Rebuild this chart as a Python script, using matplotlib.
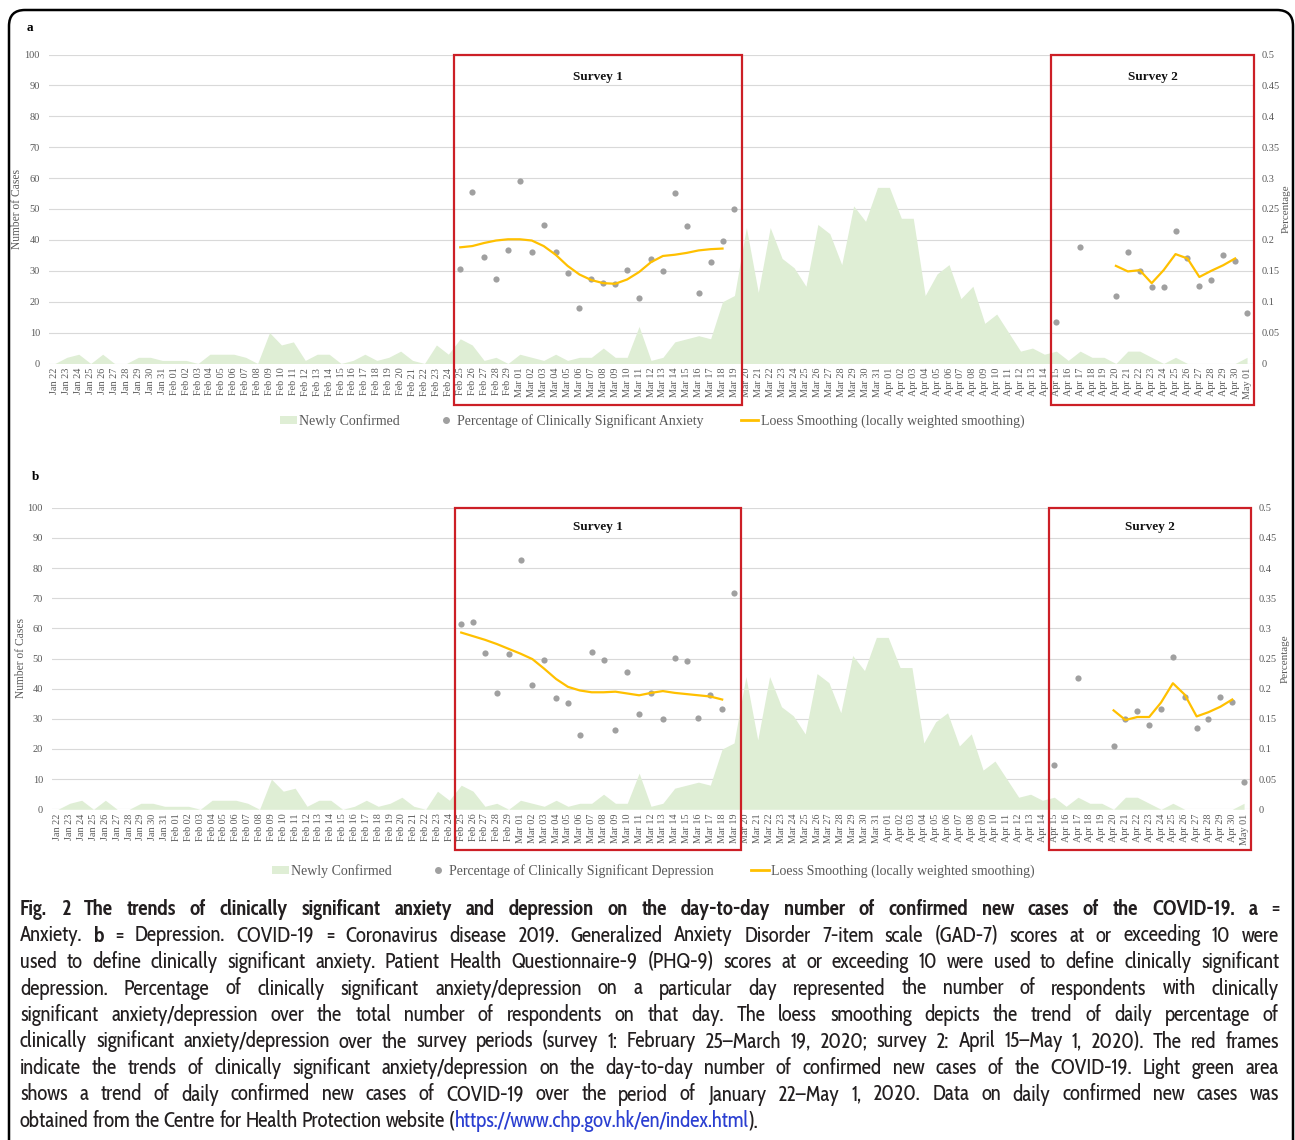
import matplotlib
matplotlib.use("Agg")
import numpy as np
import matplotlib.pyplot as plt
from matplotlib import font_manager
from matplotlib.patches import Rectangle, Patch, FancyBboxPatch
from matplotlib.lines import Line2D
from matplotlib.transforms import IdentityTransform, blended_transform_factory

# ---- data ----
months = [("Jan", 22, 31), ("Feb", 1, 29), ("Mar", 1, 31), ("Apr", 1, 30), ("May", 1, 1)]
days = []
for m, d0, d1 in months:
    for d in range(d0, d1 + 1):
        days.append("%s %02d" % (m, d))

new_cases = [0, 2, 3, 0, 3, 0, 0, 2, 2, 1,
             1, 1, 0, 3, 3, 3, 2, 0, 10, 6, 7, 1, 3, 3, 0, 1, 3, 1, 2, 4, 1, 0, 6, 3,
             8, 6, 1, 2, 0,
             3, 2, 1, 3, 1, 2, 2, 5, 2, 2, 12, 1, 2, 7, 8, 9, 8, 20, 22,
             44, 23, 44, 34, 31, 25, 45, 42, 32, 51, 46, 57,
             57, 47, 47, 22, 29, 32, 21, 25, 13, 16, 10, 4, 5, 3,
             4, 1, 4, 2, 2, 0, 4, 4, 2, 0, 2, 0, 0, 0, 0, 0,
             2]

survey1_days = days[days.index("Feb 25"):days.index("Mar 19") + 1]
loess1_days = survey1_days[:-1]
survey2_days = ["Apr 15", "Apr 17"] + days[days.index("Apr 20"):]
loess2_days = days[days.index("Apr 20"):days.index("Apr 30") + 1]

anx_s1 = [0.153, 0.277, 0.172, 0.136, 0.183, 0.295, 0.180, 0.224, 0.180, 0.146,
          0.090, 0.136, 0.131, 0.128, 0.151, 0.106, 0.169, 0.149, 0.276, 0.223,
          0.114, 0.165, 0.199, 0.250]
anx_loess1 = [0.188, 0.190, 0.195, 0.199, 0.201, 0.201, 0.199, 0.190, 0.176, 0.158,
              0.144, 0.135, 0.130, 0.129, 0.136, 0.148, 0.164, 0.174, 0.176, 0.179,
              0.183, 0.185, 0.186]
anx_s2 = [0.067, 0.189, 0.110, 0.180, 0.149, 0.123, 0.124, 0.214, 0.170, 0.126,
          0.135, 0.176, 0.166, 0.082]
anx_loess2 = [0.158, 0.149, 0.151, 0.130, 0.151, 0.177, 0.170, 0.140, 0.150, 0.159, 0.170]

dep_s1 = [0.308, 0.310, 0.259, 0.193, 0.257, 0.413, 0.206, 0.248, 0.185, 0.177,
          0.123, 0.261, 0.247, 0.131, 0.228, 0.158, 0.193, 0.149, 0.251, 0.246,
          0.151, 0.189, 0.167, 0.359]
dep_loess1 = [0.293, 0.287, 0.281, 0.274, 0.266, 0.258, 0.249, 0.233, 0.216, 0.203,
              0.197, 0.194, 0.194, 0.195, 0.192, 0.189, 0.193, 0.196, 0.193, 0.191,
              0.189, 0.187, 0.182]
dep_s2 = [0.074, 0.218, 0.105, 0.150, 0.163, 0.140, 0.167, 0.252, 0.186, 0.134,
          0.149, 0.186, 0.178, 0.045]
dep_loess2 = [0.164, 0.148, 0.153, 0.153, 0.177, 0.209, 0.190, 0.154, 0.161, 0.170, 0.182]

# ---- styles ----
W, H = 1295, 1140
SERIF = "Liberation Serif"
GRAY = "#595959"
GREEN = "#dfeed5"
DOT = "#a0a0a0"
GOLD = "#ffc000"
RED = "#cc1f26"

# condensed sans for the caption, whatever is installed
fonts = font_manager.fontManager.ttflist
have = {f.name for f in fonts}
CAP, STRETCH = "Liberation Sans", "normal"
for name in ["Cabin Condensed", "Asap Condensed", "Barlow Semi Condensed", "Encode Sans Condensed"]:
    if name in have:
        CAP = name
        break
else:
    if any(f.name == "DejaVu Sans" and str(f.stretch) == "condensed" for f in fonts):
        CAP, STRETCH = "DejaVu Sans", "condensed"

fig = plt.figure(figsize=(W / 100, H / 100), dpi=100)
x = np.arange(len(days))


def panel(rect_px, pts1, lo1, pts2, lo2, what, leg_xy, ttl_y, lab_x):
    l, t, r, b = rect_px
    ax = fig.add_axes([l / W, 1 - b / H, (r - l) / W, (b - t) / H])
    ax.fill_between(x, new_cases, color=GREEN, lw=0)
    ax.set_xlim(-0.5, len(days) - 0.5)
    ax.set_ylim(0, 100)
    ax.set_yticks(range(0, 101, 10))
    ax.set_xticks(x)
    ax.set_xticklabels(days, rotation=90, fontsize=7.3, family=SERIF, color=GRAY)
    ax.tick_params(axis="x", length=0, pad=3)
    ax.tick_params(axis="y", length=0, pad=6.5, labelsize=7.5, labelcolor=GRAY)
    for lab in ax.get_yticklabels():
        lab.set_family(SERIF)
    ax.grid(axis="y", color="#d9d9d9", lw=0.8)
    ax.set_axisbelow(True)
    for s in ax.spines.values():
        s.set_visible(False)
    ax.set_ylabel("Number of Cases", family=SERIF, fontsize=8.3, color=GRAY)
    ax.yaxis.set_label_coords(lab_x[0], 0.5)

    ax2 = ax.twinx()
    ax2.set_ylim(0, 0.5)
    ticks = [i * 0.05 for i in range(11)]
    ax2.set_yticks(ticks)
    ax2.set_yticklabels(["%g" % round(v, 2) for v in ticks], family=SERIF)
    ax2.tick_params(axis="y", length=0, pad=6.5, labelsize=7.5, labelcolor=GRAY)
    for s in ax2.spines.values():
        s.set_visible(False)
    ax2.set_ylabel("Percentage", family=SERIF, fontsize=8, color=GRAY)
    ax2.yaxis.set_label_coords(lab_x[1], 0.5)

    i1 = [days.index(d) for d in survey1_days]
    j1 = [days.index(d) for d in loess1_days]
    i2 = [days.index(d) for d in survey2_days]
    j2 = [days.index(d) for d in loess2_days]
    ax2.scatter(i1 + i2, pts1 + pts2, s=20, color=DOT, lw=0, zorder=3)
    ax2.plot(j1, lo1, color=GOLD, lw=1.6, zorder=4)
    ax2.plot(j2, lo2, color=GOLD, lw=1.6, zorder=4)

    # red frames around the survey periods
    tr = blended_transform_factory(ax.transData, ax.transAxes)
    bot = -41.0 / (b - t)
    for x0, x1, lab in [(days.index("Feb 25") - 0.55, days.index("Mar 19") + 0.6, "Survey 1"),
                        (days.index("Apr 15") - 0.45, len(days) - 0.4, "Survey 2")]:
        ax.add_patch(Rectangle((x0, bot), x1 - x0, 1 - bot, transform=tr, fill=False,
                               ec=RED, lw=1.6, clip_on=False, zorder=5))
        ax.text((x0 + x1) / 2, ttl_y, lab, transform=tr, ha="center", va="center",
                family=SERIF, fontweight="bold", fontsize=9.5, color="#111111")

    handles = [Patch(facecolor=GREEN, edgecolor="none"),
               Line2D([], [], marker="o", ls="none", color=DOT, markersize=4),
               Line2D([], [], color=GOLD, lw=2)]
    labels = ["Newly Confirmed", "Percentage of Clinically Significant " + what,
              "Loess Smoothing (locally weighted smoothing)"]
    fig.legend(handles, labels, loc="center", bbox_to_anchor=(leg_xy[0] / W, 1 - leg_xy[1] / H),
               ncol=3, frameon=False, prop={"family": SERIF, "size": 10}, labelcolor=GRAY,
               handlelength=1.25, handleheight=0.55, handletextpad=0.15, columnspacing=2.7)
    return ax


panel((49, 54.5, 1253, 363.5), anx_s1, anx_loess1, anx_s2, anx_loess2, "Anxiety",
      (652, 421), 0.927, (-0.022, 1.024))
panel((52, 507.7, 1250, 809.3), dep_s1, dep_loess1, dep_s2, dep_loess2, "Depression",
      (653, 871), 0.935, (-0.021, 1.026))

fig.text(30 / W, 1 - 28 / H, "a", family=SERIF, fontweight="bold", fontsize=9.5, ha="center", va="center")
fig.text(35 / W, 1 - 477 / H, "b", family=SERIF, fontweight="bold", fontsize=9.5, ha="center", va="center")

# outer frame, open at the bottom edge
fig.add_artist(FancyBboxPatch((9, -40), 1284, H + 30, boxstyle="round,pad=0,rounding_size=16",
                              transform=IdentityTransform(), fill=False, ec="black", lw=1.8))

# ---- caption ----
B, N, URL = "bold", "normal", "url"
cap_lines = [
    [("Fig. 2 The trends of clinically significant anxiety and depression on the day-to-day number of confirmed new cases of the COVID-19.", B), ("a", B), ("=", N)],
    [("Anxiety.", N), ("b", B), ("= Depression. COVID-19 = Coronavirus disease 2019. Generalized Anxiety Disorder 7-item scale (GAD-7) scores at or exceeding 10 were", N)],
    [("used to define clinically significant anxiety. Patient Health Questionnaire-9 (PHQ-9) scores at or exceeding 10 were used to define clinically significant", N)],
    [("depression. Percentage of clinically significant anxiety/depression on a particular day represented the number of respondents with clinically", N)],
    [("significant anxiety/depression over the total number of respondents on that day. The loess smoothing depicts the trend of daily percentage of", N)],
    [("clinically significant anxiety/depression over the survey periods (survey 1: February 25\u2013March 19, 2020; survey 2: April 15\u2013May 1, 2020). The red frames", N)],
    [("indicate the trends of clinically significant anxiety/depression on the day-to-day number of confirmed new cases of the COVID-19. Light green area", N)],
    [("shows a trend of daily confirmed new cases of COVID-19 over the period of January 22\u2013May 1, 2020. Data on daily confirmed new cases was", N)],
    [("obtained from the Centre for Health Protection website", N), ("(|https://www.chp.gov.hk/en/index.html|).", URL)],
]

fig.canvas.draw()
r = fig.canvas.get_renderer()
CAP_COLOR = "#231f20"
URL_COLOR = "#2b3fd1"
X0, X1 = 20, 1279


def segs_of(word, style):
    if style == URL:
        a, u, c = word.split("|")
        return [(a, N, CAP_COLOR), (u, N, URL_COLOR), (c, N, CAP_COLOR)]
    return [(word, style, CAP_COLOR)]


def measure(txt, weight, sz):
    t = fig.text(0.5, 0.5, txt, family=CAP, fontstretch=STRETCH, fontweight=weight, fontsize=sz)
    bb = t.get_window_extent(renderer=r)
    t.remove()
    return bb.width


def line_words(line):
    words = []
    for chunk, style in line:
        for w in chunk.split(" "):
            words.append(segs_of(w, style))
    return words


# largest size (up to 15 pt) at which every justified line fits with normal spaces
ref = 10.0
space = measure("a a", N, ref) - 2 * measure("a", N, ref)
need = 0
for line in cap_lines[:-1]:
    words = line_words(line)
    tot = sum(measure(s, wt, ref) for wd in words for s, wt, _ in wd) + space * (len(words) - 1)
    need = max(need, tot)
size = min(15.0, ref * (X1 - X0) / need * 0.995)
space = space * size / ref

for k, line in enumerate(cap_lines):
    words = line_words(line)
    widths = [sum(measure(s, wt, size) for s, wt, _ in wd) for wd in words]
    if k < len(cap_lines) - 1:
        gap = (X1 - X0 - sum(widths)) / (len(words) - 1)
    else:
        gap = space
    yb = 915 + 26.5 * k
    xp = X0
    for wd, ww in zip(words, widths):
        xs = xp
        for s, wt, col in wd:
            fig.text(xs / W, 1 - yb / H, s, family=CAP, fontstretch=STRETCH, fontweight=wt,
                     fontsize=size, color=col, va="baseline", ha="left")
            xs += measure(s, wt, size)
        xp += ww + gap

fig.savefig("out.png", dpi=100)
